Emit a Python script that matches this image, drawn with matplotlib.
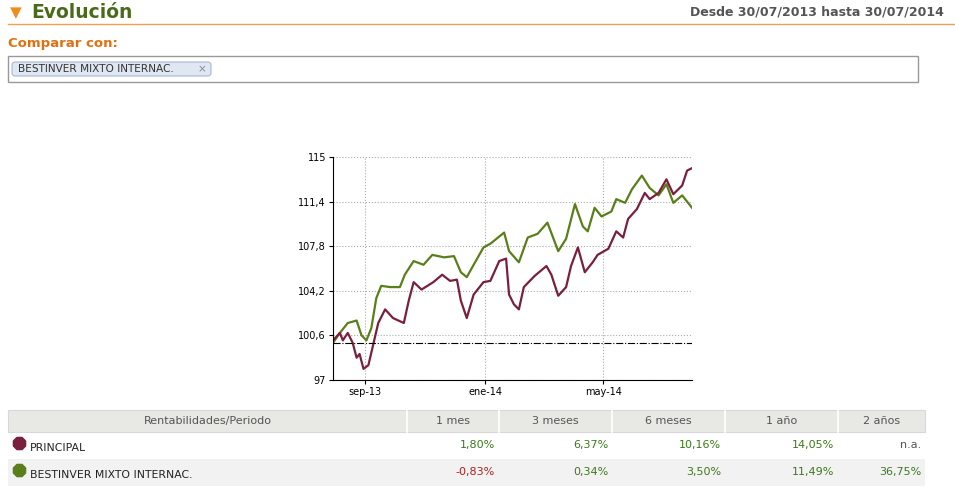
import matplotlib
matplotlib.use("Agg")
import matplotlib.pyplot as plt
from matplotlib.patches import Rectangle, FancyBboxPatch
import datetime as dt

start = dt.date(2013, 7, 30)
principal_days = [0,7,10,15,20,24,27,31,36,41,46,53,61,72,77,82,90,102,111,119,126,130,136,143,153,160,169,176,179,184,189,194,205,217,222,229,237,242,249,256,264,269,280,288,295,300,309,317,322,331,339,346,355,360,365]
principal_vals = [100.2,100.8,100.2,100.8,100.0,98.8,99.1,97.9,98.2,99.9,101.6,102.7,102.0,101.6,103.4,104.9,104.3,104.9,105.5,105.0,105.1,103.4,102.0,103.9,104.9,105.0,106.6,106.8,103.9,103.1,102.7,104.5,105.4,106.2,105.5,103.8,104.5,106.2,107.7,105.7,106.5,107.1,107.6,109.0,108.5,110.0,110.8,112.1,111.6,112.1,113.2,112.0,112.7,113.9,114.1]
bestinver_days = [0,7,15,24,29,34,39,44,49,58,68,73,82,92,101,113,123,130,136,143,153,160,174,179,189,198,208,218,229,237,246,254,259,266,273,283,288,297,304,314,322,331,339,346,355,365]
bestinver_vals = [100.0,100.8,101.6,101.8,100.6,100.2,101.2,103.6,104.6,104.5,104.5,105.5,106.6,106.3,107.1,106.9,107.0,105.7,105.3,106.3,107.7,108.0,108.9,107.4,106.5,108.5,108.8,109.7,107.4,108.4,111.2,109.4,109.0,110.9,110.2,110.6,111.6,111.3,112.4,113.5,112.5,111.9,112.8,111.3,111.9,110.9]
y_ticks = [97, 100.6, 104.2, 107.8, 111.4, 115]
y_tick_labels = ["97", "100,6", "104,2", "107,8", "111,4", "115"]
x_tick_dates = [dt.date(2013,9,1), dt.date(2014,1,1), dt.date(2014,5,1)]
x_tick_labels = ["sep-13", "ene-14", "may-14"]
headers = ["Rentabilidades/Periodo", "1 mes", "3 meses", "6 meses", "1 año", "2 años"]
row_names = ["PRINCIPAL", "BESTINVER MIXTO INTERNAC."]
row_vals = [["1,80%", "6,37%", "10,16%", "14,05%", "n.a."],
            ["-0,83%", "0,34%", "3,50%", "11,49%", "36,75%"]]
RED = "#7a1f3d"; GREEN = "#5a7f1a"

W, H = 955, 500
fig = plt.figure(figsize=(9.55, 5), dpi=100)
fig.patch.set_facecolor("white")
ov = fig.add_axes([0, 0, 1, 1]); ov.set_xlim(0, W); ov.set_ylim(H, 0); ov.axis("off")

ov.text(10, 13, "▼", color="#f08c1e", fontsize=11, va="center")
ov.text(31, 13, "Evolución", color="#4a6a1a", fontsize=13.5, fontweight="bold", va="center")
ov.text(944, 12, "Desde 30/07/2013 hasta 30/07/2014", color="#555555", fontsize=9, fontweight="bold", va="center", ha="right")
ov.plot([8, 955], [24, 24], color="#f0a050", lw=1)
ov.text(8, 43, "Comparar con:", color="#e07010", fontsize=9.5, fontweight="bold", va="center")
ov.add_patch(Rectangle((8, 56), 910, 26, fill=False, ec="#999999", lw=1))
ov.add_patch(FancyBboxPatch((12, 62), 199, 14, boxstyle="round,pad=0,rounding_size=3", fc="#dfe7f3", ec="#aab8d0", lw=0.8))
ov.text(18, 69, "BESTINVER MIXTO INTERNAC.", fontsize=7.6, va="center", color="#333333")
ov.text(198, 69, "×", fontsize=7.5, va="center", color="#888888")

cols = [8, 407, 499, 612, 725, 838, 925]
ov.add_patch(Rectangle((8, 410), 917, 22, fc="#e8e8e4", ec="#d8d8d8", lw=0.8))
ov.add_patch(Rectangle((8, 459), 917, 27, fc="#f2f2f2", ec="none"))
for c in cols[1:-1]:
    ov.plot([c, c], [410, 432], color="#ffffff", lw=1.2)
for i, h in enumerate(headers):
    ov.text((cols[i]+cols[i+1])/2, 421, h, ha="center", va="center", fontsize=8, color="#555555")
for r, (name, vals) in enumerate(zip(row_names, row_vals)):
    yc = 446 + r*27
    col = RED if r == 0 else GREEN
    ov.scatter([19], [yc-3], s=90, marker="8", color=col)
    ov.text(30, yc+2, name, fontsize=7.8, va="center", color="#222222")
    for j, v in enumerate(vals):
        c = "#555555" if v == "n.a." else ("#b02020" if v.startswith("-") else "#3a7a1a")
        ov.text(cols[j+2]-4, yc-1, v, ha="right", va="center", fontsize=8, color=c)

ax = fig.add_axes([333/W, 1-380/H, 359/W, 223/H])
pd_ = [start + dt.timedelta(days=d) for d in principal_days]
bd_ = [start + dt.timedelta(days=d) for d in bestinver_days]
ax.plot(bd_, bestinver_vals, color=GREEN, lw=1.6)
ax.plot(pd_, principal_vals, color=RED, lw=1.6)
ax.axhline(100, color="black", lw=0.8, ls="-.")
ax.set_ylim(97, 115)
ax.set_xlim(start, start + dt.timedelta(days=365))
ax.set_yticks(y_ticks)
ax.set_yticklabels(y_tick_labels, fontsize=7)
ax.set_xticks(x_tick_dates)
ax.set_xticklabels(x_tick_labels, fontsize=7)
ax.grid(True, color="#aaaaaa", ls=":", lw=0.8)
for s in ["top", "right"]:
    ax.spines[s].set_visible(False)
ax.tick_params(length=3, pad=2)
fig.savefig("out.png", dpi=100)
